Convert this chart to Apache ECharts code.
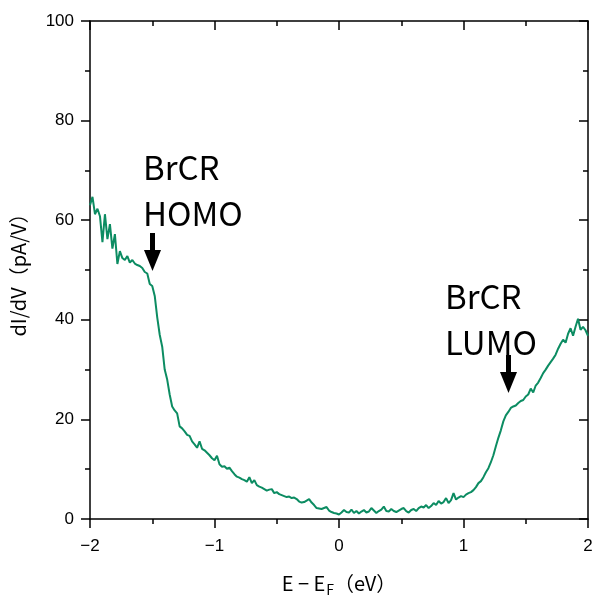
<!DOCTYPE html>
<html>
<head>
<meta charset="utf-8">
<script src="https://cdn.jsdelivr.net/npm/echarts@6/dist/echarts.min.js"></script>
<style>
  html, body { margin: 0; padding: 0; background: #fff; }
  #chart { width: 595px; height: 598px; }
</style>
</head>
<body>
<div id="chart"></div>
<script>
  // bias (eV), step 0.02 from -2 to 2
  const biasStart = -2
  const biasStep = 0.02
  // dI/dV (pA/V)
  const didv = [
    63.0, 64.7, 61.2, 62.3, 60.8, 55.6, 61.2, 56.2, 59.2, 54.3,
    57.2, 51.2, 53.8, 52.4, 52.0, 52.8, 51.5, 52.0, 51.3, 51.0,
    50.8, 50.4, 49.6, 49.3, 47.2, 46.8, 44.8, 40.5, 37.0, 34.6,
    30.0, 28.0, 25.0, 22.6, 21.8, 21.2, 18.6, 18.2, 17.6, 16.9,
    16.7, 15.6, 15.0, 14.3, 15.6, 14.1, 13.8, 13.3, 12.8, 12.2,
    11.8, 12.7, 11.0, 10.5, 10.6, 10.1, 10.3, 9.6, 9.0, 8.5,
    8.3, 8.0, 7.8, 7.5, 8.4, 7.2, 7.8, 6.8, 6.5, 6.3,
    6.0, 5.7, 5.9, 6.0, 5.2, 5.4, 5.0, 4.8, 4.6, 4.4,
    4.5, 4.2, 4.3, 4.0, 3.5, 3.3, 3.4, 3.7, 4.0, 3.3,
    2.8, 2.2, 2.1, 2.0, 2.2, 2.4, 1.7, 1.4, 1.2, 1.1,
    0.9, 1.3, 1.8, 1.4, 1.3, 1.9, 1.2, 1.6, 1.1, 1.5,
    1.8, 1.3, 1.5, 2.2, 1.7, 1.2, 1.6, 1.9, 2.5, 1.6,
    1.5, 2.0, 1.6, 1.4, 1.7, 2.0, 2.2, 1.6, 1.3, 1.8,
    2.0, 1.6, 2.2, 2.5, 2.3, 2.8, 2.2, 2.6, 3.2, 2.8,
    3.6, 3.1, 3.4, 4.2, 3.2, 3.8, 5.2, 3.9, 4.3, 4.6,
    4.4, 4.9, 5.2, 5.4, 5.8, 6.4, 7.2, 7.6, 8.4, 9.4,
    10.2, 11.4, 12.8, 14.6, 16.3, 17.8, 19.6, 20.8, 21.5, 22.3,
    22.6, 22.8, 23.3, 23.7, 23.9, 24.6, 25.0, 26.2, 25.4, 26.8,
    27.4, 28.3, 29.3, 30.0, 30.8, 31.5, 32.2, 33.0, 34.2, 35.2,
    36.0, 35.4, 37.2, 38.3, 36.8, 38.6, 40.2, 38.0, 38.6, 37.9,
    36.8
  ]
  const xTicks = [-2, -1, 0, 1, 2]
  const yTicks = [0, 20, 40, 60, 80, 100]

  const points = didv.map((v, i) => [+(biasStart + i * biasStep).toFixed(2), v])

  const font = '"Noto Sans CJK JP", "Noto Sans", sans-serif'
  const tickFont = '"Liberation Sans", Arial, sans-serif'
  const minus = (v) => String(v).replace('-', '\u2212')

  const chart = echarts.init(document.getElementById('chart'))

  const axisCommon = {
    axisLine: { show: true, onZero: false, lineStyle: { color: '#000', width: 1.5 } },
    splitLine: { show: false }
  }

  const option = {
    animation: false,
    backgroundColor: '#fff',
    grid: { left: 90, right: 7, top: 21, bottom: 79, containLabel: false, outerBoundsMode: 'none' },
    xAxis: [
      Object.assign({
        type: 'value',
        min: xTicks[0],
        max: xTicks[xTicks.length - 1],
        interval: 1,
        position: 'bottom',
        axisTick: { show: true, length: 9, lineStyle: { color: '#000', width: 1.5 } },
        minorTick: { show: true, splitNumber: 2, length: 5, lineStyle: { color: '#000', width: 1.5 } },
        axisLabel: { color: '#000', fontSize: 17, fontFamily: tickFont, margin: 19, formatter: minus },
        name: '{a|E \u2212 E}{s|F}{a|\uff08eV\uff09}',
        nameLocation: 'middle',
        nameGap: 50,
        nameTextStyle: {
          rich: {
            a: { fontSize: 20, fontFamily: font, color: '#000' },
            s: { fontSize: 14, fontFamily: font, color: '#000', padding: [14, 0, 0, 1] }
          }
        }
      }, axisCommon),
      Object.assign({
        type: 'value',
        min: xTicks[0],
        max: xTicks[xTicks.length - 1],
        interval: 1,
        position: 'top',
        axisTick: { show: true, inside: true, length: 9, lineStyle: { color: '#000', width: 1.5 } },
        minorTick: { show: true, splitNumber: 2, length: 5, lineStyle: { color: '#000', width: 1.5 } },
        axisLabel: { show: false }
      }, axisCommon)
    ],
    yAxis: [
      Object.assign({
        type: 'value',
        min: yTicks[0],
        max: yTicks[yTicks.length - 1],
        interval: 20,
        position: 'left',
        axisTick: { show: true, length: 9, lineStyle: { color: '#000', width: 1.5 } },
        minorTick: { show: true, splitNumber: 2, length: 5, lineStyle: { color: '#000', width: 1.5 } },
        axisLabel: { color: '#000', fontSize: 17, fontFamily: tickFont, margin: 16 },
        name: 'dI/dV\uff08pA/V\uff09',
        nameLocation: 'middle',
        nameGap: 62,
        nameTextStyle: { fontSize: 20, fontFamily: font, color: '#000' }
      }, axisCommon),
      Object.assign({
        type: 'value',
        min: yTicks[0],
        max: yTicks[yTicks.length - 1],
        interval: 20,
        position: 'right',
        axisTick: { show: true, inside: true, length: 9, lineStyle: { color: '#000', width: 1.5 } },
        minorTick: { show: true, splitNumber: 2, length: 5, lineStyle: { color: '#000', width: 1.5 } },
        axisLabel: { show: false }
      }, axisCommon)
    ],
    series: [
      {
        type: 'line',
        data: points,
        showSymbol: false,
        lineStyle: { color: '#0c8c62', width: 2 },
        silent: true
      }
    ],
    graphic: [
      {
        type: 'text', left: 143, top: 144,
        style: { text: 'BrCR\nHOMO', fontSize: 33, lineHeight: 46, fontFamily: font, fill: '#000' }
      },
      {
        type: 'text', left: 445, top: 273,
        style: { text: 'BrCR\nLUMO', fontSize: 33, lineHeight: 46, fontFamily: font, fill: '#000' }
      },
      // HOMO arrow
      { type: 'rect', shape: { x: 150, y: 233, width: 5, height: 18 }, style: { fill: '#000' } },
      { type: 'polygon', shape: { points: [[144, 250], [161, 250], [152.5, 271]] }, style: { fill: '#000' } },
      // LUMO arrow
      { type: 'rect', shape: { x: 506, y: 355, width: 5, height: 18 }, style: { fill: '#000' } },
      { type: 'polygon', shape: { points: [[500, 372], [517, 372], [508.5, 393]] }, style: { fill: '#000' } }
    ]
  }

  chart.setOption(option)
</script>
</body>
</html>
